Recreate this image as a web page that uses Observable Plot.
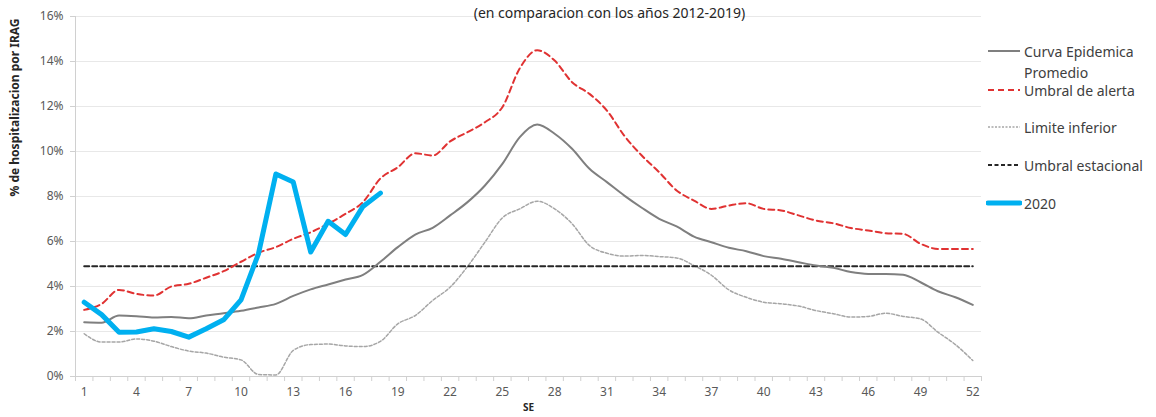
<!DOCTYPE html>
<html>
<head>
<meta charset="utf-8">
<script src="https://cdn.jsdelivr.net/npm/d3@7"></script>
<script src="https://cdn.jsdelivr.net/npm/@observablehq/plot@0.6"></script>
<style>
  html, body { margin: 0; padding: 0; background: #fff; }
  #wrap { position: relative; width: 1156px; height: 417px; overflow: hidden; font-family: "Noto Sans", sans-serif; }
  .legtxt { position: absolute; left: 1024px; font-size: 14px; color: #404040; white-space: nowrap; transform: translateY(-50%); }
</style>
</head>
<body>
<div id="wrap"></div>
<script>
const weeks = d3.range(1, 53);
const xTickWeeks = [1, 4, 7, 10, 13, 16, 19, 22, 25, 28, 31, 34, 37, 40, 43, 46, 49, 52];
const yTicks = [0, 2, 4, 6, 8, 10, 12, 14, 16];

const curvaPromedio = [2.41,2.39,2.71,2.68,2.62,2.65,2.59,2.71,2.81,2.92,
  3.07,3.23,3.58,3.87,4.09,4.31,4.52,5.1,5.75,6.31,
  6.61,7.16,7.75,8.49,9.45,10.64,11.2,10.79,10.12,9.23,
  8.64,8.04,7.5,7.01,6.67,6.22,5.97,5.72,5.57,5.35,
  5.23,5.08,4.93,4.83,4.64,4.56,4.56,4.52,4.19,3.79,
  3.52,3.18];
const umbralAlerta = [2.96,3.23,3.85,3.67,3.6,4.0,4.12,4.39,4.68,5.1,
  5.5,5.75,6.12,6.41,6.79,7.23,7.75,8.8,9.3,9.92,
  9.82,10.45,10.86,11.3,11.97,13.7,14.5,14.04,13.08,12.56,
  11.82,10.7,9.82,9.08,8.27,7.82,7.45,7.6,7.7,7.45,
  7.38,7.16,6.93,6.81,6.6,6.49,6.37,6.34,5.9,5.67,
  5.67,5.67];
const limiteInferior = [1.9,1.53,1.53,1.67,1.57,1.33,1.13,1.04,0.86,0.74,
  0.09,0.07,1.16,1.42,1.44,1.36,1.33,1.56,2.34,2.71,
  3.38,3.97,4.89,5.97,7.05,7.45,7.79,7.45,6.79,5.82,
  5.48,5.35,5.38,5.33,5.27,4.93,4.5,3.85,3.52,3.3,
  3.23,3.13,2.93,2.79,2.64,2.67,2.81,2.67,2.56,1.97,
  1.42,0.71];
const umbralEstacional = [4.9,4.9,4.9,4.9,4.9,4.9,4.9,4.9,4.9,4.9,
  4.9,4.9,4.9,4.9,4.9,4.9,4.9,4.9,4.9,4.9,
  4.9,4.9,4.9,4.9,4.9,4.9,4.9,4.9,4.9,4.9,
  4.9,4.9,4.9,4.9,4.9,4.9,4.9,4.9,4.9,4.9,
  4.9,4.9,4.9,4.9,4.9,4.9,4.9,4.9,4.9,4.9,
  4.9,4.9];
const serie2020 = [3.3,2.75,1.97,1.98,2.12,2.0,1.75,2.12,2.52,3.41,
  5.45,9.0,8.64,5.53,6.9,6.31,7.56,8.15];

const titleText = "(en comparacion con los años 2012-2019)";
const yLabel = "% de hospitalizacion por IRAG";
const xLabel = "SE";
const legendItems = ["Curva Epidemica", "Promedio", "Umbral de alerta", "Limite inferior", "Umbral estacional", "2020"];

const toRows = arr => arr.map((v, i) => ({week: weeks[i], value: v}));
const boundaries = weeks.map(w => w - 0.5).concat([52.5]);

const chart = Plot.plot({
  width: 1156,
  height: 417,
  marginLeft: 75,
  marginRight: 175,
  marginTop: 16,
  marginBottom: 41,
  style: {fontFamily: "Noto Sans, sans-serif", background: "white", overflow: "visible"},
  x: {domain: [0.5, 52.5]},
  y: {domain: [0, 16]},
  marks: [
    Plot.gridY(yTicks.filter(d => d > 0), {stroke: "#e8e8e8", strokeOpacity: 1}),
    Plot.ruleX([0.5], {stroke: "#d0d0d0"}),
    Plot.ruleY([0], {stroke: "#d0d0d0"}),
    Plot.axisY({ticks: yTicks, tickFormat: d => d + "%", tickSize: 5, tickPadding: 7, fontSize: 12, color: "#595959", stroke: "#d0d0d0", label: null}),
    Plot.axisX({ticks: boundaries, tickFormat: () => "", tickSize: 5, stroke: "#d0d0d0", label: null}),
    Plot.axisX({ticks: xTickWeeks, tickSize: 0, tickPadding: 11, fontSize: 12, color: "#595959", label: null}),
    Plot.line(toRows(limiteInferior), {x: "week", y: "value", stroke: "#a6a6a6", strokeWidth: 1.5, strokeDasharray: "3,2", curve: "monotone-x"}),
    Plot.line(toRows(umbralEstacional), {x: "week", y: "value", stroke: "#262626", strokeWidth: 2, strokeDasharray: "5,3"}),
    Plot.line(toRows(curvaPromedio), {x: "week", y: "value", stroke: "#7f7f7f", strokeWidth: 2, curve: "monotone-x"}),
    Plot.line(toRows(umbralAlerta), {x: "week", y: "value", stroke: "#e03232", strokeWidth: 2, strokeDasharray: "6,4", curve: "monotone-x"}),
    Plot.line(toRows(serie2020), {x: "week", y: "value", stroke: "#00b0f0", strokeWidth: 5, strokeLinejoin: "round", strokeLinecap: "round"}),
    Plot.text([yLabel], {frameAnchor: "left", rotate: -90, dx: -60, fontWeight: "bold", fontSize: 12, fill: "#262626"}),
    Plot.text([xLabel], {frameAnchor: "bottom", dy: 34, fontWeight: "bold", fontSize: 10, fill: "#262626"}),
    Plot.text([titleText], {frameAnchor: "top", dx: 81, dy: -8, fontSize: 14, fill: "#262626"})
  ]
});

const wrap = document.getElementById("wrap");
wrap.appendChild(chart);

// Legend (HTML, outside the plot frame)
const swatches = [
  {y: 51, stroke: "#7f7f7f", w: 2, dash: null, label: legendItems[0]},
  {y: 90, stroke: "#e03232", w: 2, dash: "6,4", label: legendItems[2]},
  {y: 127, stroke: "#a6a6a6", w: 1.5, dash: "2,1.5", label: legendItems[3]},
  {y: 165, stroke: "#262626", w: 2, dash: "4,2.5", label: legendItems[4]},
  {y: 203, stroke: "#00b0f0", w: 5, dash: null, label: legendItems[5]}
];
const ns = "http://www.w3.org/2000/svg";
swatches.forEach(s => {
  const svg = document.createElementNS(ns, "svg");
  svg.setAttribute("width", 36);
  svg.setAttribute("height", 10);
  svg.style.position = "absolute";
  svg.style.left = "986px";
  svg.style.top = (s.y - 5) + "px";
  const ln = document.createElementNS(ns, "line");
  ln.setAttribute("x1", 2); ln.setAttribute("x2", 34);
  ln.setAttribute("y1", 5); ln.setAttribute("y2", 5);
  ln.setAttribute("stroke", s.stroke);
  ln.setAttribute("stroke-width", s.w);
  if (s.dash) ln.setAttribute("stroke-dasharray", s.dash);
  if (s.w >= 5) ln.setAttribute("stroke-linecap", "round");
  svg.appendChild(ln);
  wrap.appendChild(svg);
  const t = document.createElement("div");
  t.className = "legtxt";
  t.style.top = s.y + "px";
  t.textContent = s.label;
  wrap.appendChild(t);
});
const t2 = document.createElement("div");
t2.className = "legtxt";
t2.style.top = "72px";
t2.textContent = legendItems[1];
wrap.appendChild(t2);
</script>
</body>
</html>
